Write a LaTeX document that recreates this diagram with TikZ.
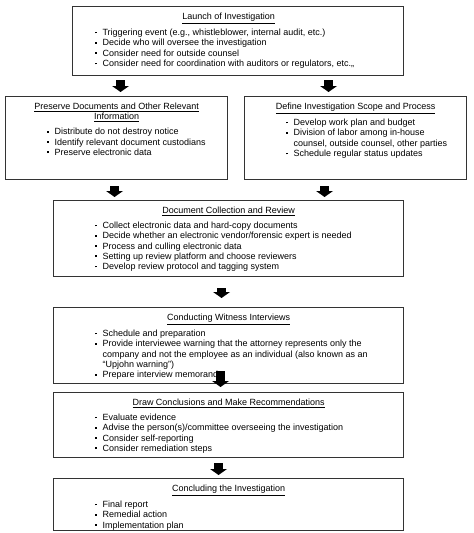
\documentclass[tikz,border=0pt]{standalone}
\usepackage{fontspec}
\setmainfont{Liberation Sans}
\usetikzlibrary{positioning, arrows.meta}

% bullet list used inside the boxes
\newlength{\pointsindent}
\setlength{\pointsindent}{49pt}
\newenvironment{points}{\begin{list}{\rule[2.3pt]{1.7pt}{1.7pt}}{%
  \setlength{\leftmargin}{\pointsindent}\setlength{\labelwidth}{6pt}%
  \setlength{\labelsep}{6pt}\setlength{\itemsep}{0pt}%
  \setlength{\parsep}{0pt}\setlength{\topsep}{0pt}%
  \setlength{\partopsep}{0pt}\setlength{\itemindent}{0pt}}}{\end{list}}
% box body: width, height, title, list
\newcommand{\stage}[4]{\parbox[t][#2pt][t]{#1pt}{\vspace*{6.5pt}%
  {\centering #3\par}\vspace{4.7pt}\raggedright\begin{points}#4\end{points}}}

\begin{document}
\begin{tikzpicture}[x=1pt, y=-1pt]
    \tikzstyle{block} = [rectangle,draw=black!80,line width=1.1pt,inner sep=0pt,anchor=north west,font=\fontsize{9}{10.3}\selectfont]
    \tikzstyle{bigarrow} = [line width=9pt,-{Triangle[width=17pt,length=6pt,line width=0pt]}]

    \useasboundingbox (0,0) rectangle (474,533);

    \node (launch) [block] at (72,6) {\setlength{\pointsindent}{30pt}\stage{331}{69}{\hspace*{-19pt}\underline{Launch of Investigation}}{%
        \item Triggering event (e.g., whistleblower, internal audit, etc.)
        \item Decide who will oversee the investigation
        \item Consider need for outside counsel
        \item Consider need for coordination with auditors or regulators, etc.,,}};

    \node (pres) [block] at (5,96) {\stage{222}{83}{\underline{Preserve Documents and Other Relevant}\\\underline{Information}}{%
        \item Distribute do not destroy notice
        \item Identify relevant document custodians
        \item Preserve electronic data}};

    \node (scope) [block] at (244,96) {\stage{222}{83}{\underline{Define Investigation Scope and Process}}{%
        \item Develop work plan and budget
        \item Division of labor among in-house\newline counsel, outside counsel, other parties
        \item Schedule regular status updates}};

    \node (collect) [block] at (53,200) {\stage{350}{76}{\underline{Document Collection and Review}}{%
        \item Collect electronic data and hard-copy documents
        \item Decide whether an electronic vendor/forensic expert is needed
        \item Process and culling electronic data
        \item Setting up review platform and choose reviewers
        \item Develop review protocol and tagging system}};

    \node (witness) [block] at (53,307) {\stage{350}{76}{\underline{Conducting Witness Interviews}}{%
        \item Schedule and preparation
        \item Provide interviewee warning that the attorney represents only the\newline company and not the employee as an individual (also known as an\newline “Upjohn warning”)
        \item Prepare interview memoranda}};

    \node (conclude) [block] at (53,392) {\stage{350}{65}{\underline{Draw Conclusions and Make Recommendations}}{%
        \item Evaluate evidence
        \item Advise the person(s)/committee overseeing the investigation
        \item Consider self-reporting
        \item Consider remediation steps}};

    \node (final) [block] at (53,478) {\stage{350}{52}{\underline{Concluding the Investigation}}{%
        \item Final report
        \item Remedial action
        \item Implementation plan}};

    \draw [bigarrow, shorten <=4pt, shorten >=4pt] ([xshift=4pt]pres.north |- launch.south) -- ([xshift=4pt]pres.north);
    \draw [bigarrow, shorten <=4pt, shorten >=4pt] ([xshift=-27pt]scope.north |- launch.south) -- ([xshift=-27pt]scope.north);
    \draw [bigarrow, shorten <=6pt, shorten >=3pt] ([xshift=-2pt]pres.south) -- ([xshift=-2pt]pres.south |- collect.north);
    \draw [bigarrow, shorten <=6pt, shorten >=3pt] ([xshift=-31pt]scope.south) -- ([xshift=-31pt]scope.south |- collect.north);
    \draw [bigarrow, shorten <=11pt, shorten >=9pt] ([xshift=-7pt]collect.south) -- ([xshift=-7pt]witness.north);
    \draw [bigarrow] ([xshift=-8pt,yshift=13pt]witness.south) -- ([xshift=-8pt,yshift=5pt]conclude.north);
    \draw [bigarrow, shorten <=5pt, shorten >=3pt] ([xshift=-10pt]conclude.south) -- ([xshift=-10pt]final.north);
\end{tikzpicture}
\end{document}
